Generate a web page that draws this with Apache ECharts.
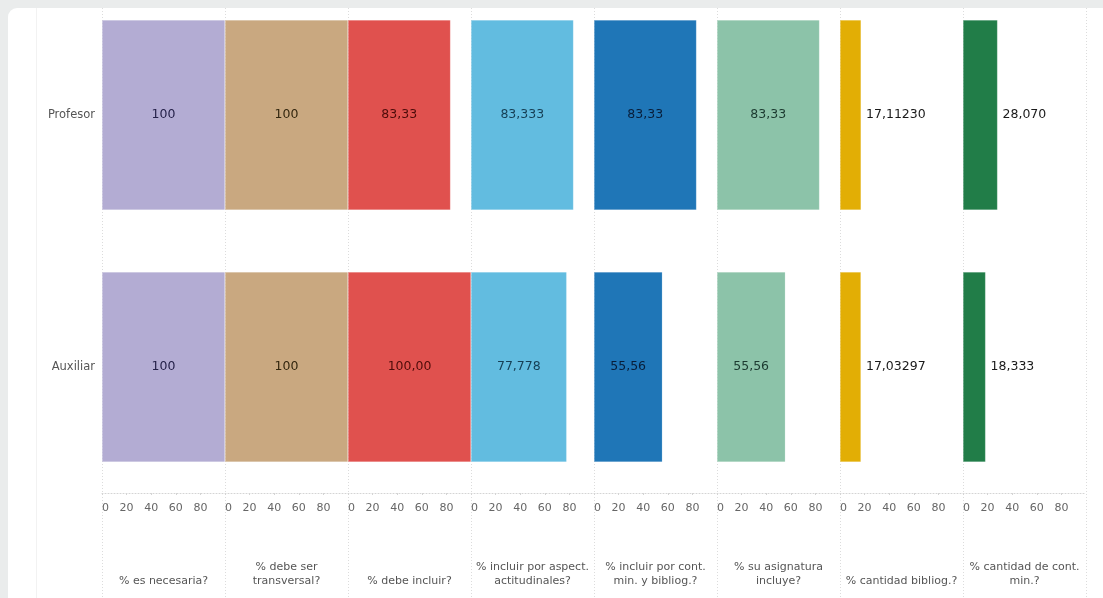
<!DOCTYPE html>
<html>
<head>
<meta charset="utf-8">
<script src="https://cdn.jsdelivr.net/npm/echarts@6/dist/echarts.min.js"></script>
<style>
html,body{margin:0;padding:0;background:#eaecec;width:1103px;height:598px;overflow:hidden;}
#card{position:absolute;left:8px;top:8px;width:1110px;height:610px;background:#fff;border-radius:9px;}
#chart{position:absolute;left:0;top:0;width:1103px;height:598px;}
</style>
</head>
<body>
<div id="card"></div>
<div id="chart"></div>
<script>
// ---- data ----
var categories = ['Profesor', 'Auxiliar'];
var panelTitles = [
  '% es necesaria?',
  '% debe ser\ntransversal?',
  '% debe incluir?',
  '% incluir por aspect.\nactitudinales?',
  '% incluir por cont.\nmin. y bibliog.?',
  '% su asignatura\nincluye?',
  '% cantidad bibliog.?',
  '% cantidad de cont.\nmin.?'
];
var profesorValues = [100, 100, 83.33, 83.333, 83.33, 83.33, 17.1123, 28.07];
var auxiliarValues = [100, 100, 100, 77.778, 55.56, 55.56, 17.03297, 18.333];
var profesorDecimals = [0, 0, 2, 3, 2, 2, 5, 3];
var auxiliarDecimals = [0, 0, 2, 3, 2, 2, 5, 3];
var xTicks = [0, 20, 40, 60, 80, 100];

// ---- styles ----
var barColors = ['#b3acd3', '#c9a880', '#e0514e', '#62bce0', '#1f76b7', '#8cc3a9', '#e2ae05', '#217d48'];
var labelColors = ['#26224a', '#33270f', '#4e0c0a', '#163f55', '#081e3a', '#1c3a30', '#1a1a1a', '#1a1a1a'];
var FONT = 'DejaVu Sans, Verdana, sans-serif';

var panelLeft = 102, panelW = 123, gridTop = -11, gridH = 504;

function fmt(v, d) { return v.toFixed(d).replace('.', ','); }

var grids = [], xAxes = [], yAxes = [], series = [], graphics = [];
for (var i = 0; i < panelTitles.length; i++) {
  grids.push({ left: panelLeft + i * panelW, top: gridTop, width: panelW, height: gridH, containLabel: false, outerBoundsMode: 'none' });
  xAxes.push({
    type: 'value', gridIndex: i, min: xTicks[0], max: xTicks[xTicks.length - 1], interval: xTicks[1] - xTicks[0],
    axisLine: { show: true, lineStyle: { color: '#d4d4d4', type: [1, 2], width: 1 } },
    axisTick: { show: true, length: 2, lineStyle: { color: '#d4d4d4' } },
    splitLine: { show: false },
    axisLabel: { show: true, showMaxLabel: false, alignMinLabel: 'left', margin: 10, color: '#666', fontSize: 11, fontFamily: FONT }
  });
  yAxes.push({
    type: 'category', gridIndex: i, data: categories, inverse: true,
    axisLine: { show: false }, axisTick: { show: false }, splitLine: { show: false },
    axisLabel: { show: i === 0, margin: 7, color: '#555', fontSize: 11.5, fontFamily: FONT }
  });
  (function (idx) {
    var vals = [profesorValues[idx], auxiliarValues[idx]];
    var decs = [profesorDecimals[idx], auxiliarDecimals[idx]];
    series.push({
      type: 'bar', xAxisIndex: idx, yAxisIndex: idx, barWidth: 190,
      data: vals.map(function (v, k) {
        var outside = v < 40;
        return {
          value: v,
          label: {
            show: true,
            position: outside ? 'right' : 'inside',
            distance: 5,
            color: outside ? '#1a1a1a' : labelColors[idx],
            fontSize: 12.5,
            fontFamily: FONT,
            formatter: fmt(v, decs[k])
          }
        };
      }),
      itemStyle: { color: barColors[idx], borderColor: 'rgba(255,255,255,0.35)', borderWidth: 0.5 },
      silent: true, animation: false
    });
  })(i);
  graphics.push({
    type: 'text', x: panelLeft + i * panelW + panelW / 2, y: 588,
    style: { text: panelTitles[i], textAlign: 'center', textVerticalAlign: 'bottom', fill: '#555', fontSize: 11, lineHeight: 14, fontFamily: FONT }
  });
}
for (var j = 0; j <= panelTitles.length; j++) {
  var x = panelLeft + j * panelW + 0.5;
  graphics.push({ type: 'line', shape: { x1: x, y1: 8, x2: x, y2: 598 }, style: { stroke: '#dcdcdc', lineWidth: 1, lineDash: [1, 2] }, z: -1 });
}
graphics.push({ type: 'line', shape: { x1: 36.5, y1: 8, x2: 36.5, y2: 598 }, style: { stroke: '#f2f2f2', lineWidth: 1 }, z: -1 });

var chart = echarts.init(document.getElementById('chart'), null, { renderer: 'canvas' });
chart.setOption({
  backgroundColor: 'transparent',
  animation: false,
  grid: grids, xAxis: xAxes, yAxis: yAxes, series: series,
  graphic: graphics
});
</script>
</body>
</html>
